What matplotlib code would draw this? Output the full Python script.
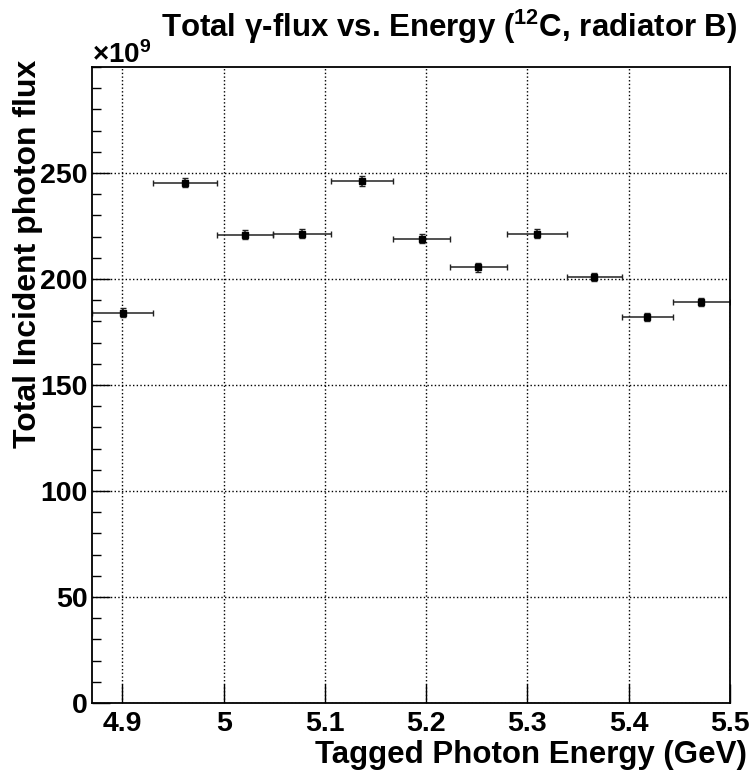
import numpy as np
import matplotlib
matplotlib.use("Agg")
import matplotlib.pyplot as plt
from matplotlib.ticker import MultipleLocator

plt.rcParams['font.family'] = ['Liberation Sans', 'DejaVu Sans']
plt.rcParams['font.weight'] = 'bold'
plt.rcParams['mathtext.fontset'] = 'custom'
plt.rcParams['mathtext.rm'] = 'Liberation Sans:bold'
plt.rcParams['mathtext.sf'] = 'Liberation Sans'
plt.rcParams['mathtext.default'] = 'rm'

# tagged photon energy bins (GeV), flux in units of 1e9
bin_edges = [4.87, 4.9305, 4.993, 5.049, 5.1057, 5.1675, 5.2235, 5.2795, 5.3393, 5.3931, 5.4434, 5.5]
flux = [184.1, 245.4, 220.9, 221.4, 246.2, 219.0, 205.5, 221.4, 200.9, 182.2, 189.2]
flux_err = [2.0, 2.2, 2.1, 2.1, 2.2, 2.1, 2.0, 2.1, 2.0, 1.9, 1.9]

edges = np.array(bin_edges)
centers = 0.5 * (edges[:-1] + edges[1:])
half_w = 0.5 * np.diff(edges)

fig = plt.figure(figsize=(7.54, 7.72), dpi=100)
ax = fig.add_axes([0.122, 0.0894, 0.846, 0.8238])

ax.errorbar(centers, flux, xerr=half_w, yerr=flux_err, fmt='s', color='black',
            ms=4, elinewidth=1.1, capsize=2.5, capthick=1.0, ecolor='#222222')

ax.set_xlim(4.87, 5.5)
ax.set_ylim(0, 300)
ax.yaxis.set_minor_locator(MultipleLocator(10))
ax.set_xticks([4.9, 5.0, 5.1, 5.2, 5.3, 5.4, 5.5])
ax.set_xticklabels(['4.9', '5', '5.1', '5.2', '5.3', '5.4', '5.5'])
ax.set_yticks([0, 50, 100, 150, 200, 250])
ax.tick_params(axis='x', which='major', direction='in', length=14, width=1,
               labelsize=20.5, pad=6)
ax.tick_params(axis='y', which='major', direction='in', length=13, width=1,
               labelsize=20.5, pad=3)
ax.tick_params(axis='y', which='minor', direction='in', length=6.5, width=1)
ax.grid(True, which='major', linestyle=':', color='black', linewidth=1.0)
for s in ax.spines.values():
    s.set_linewidth(1.3)

ax.set_xlabel('Tagged Photon Energy (GeV)', fontsize=22.5, fontweight='bold')
ax.xaxis.set_label_coords(1.027, -0.082)
ax.xaxis.label.set_ha('right')
ax.xaxis.label.set_va('center')
ax.set_ylabel('Total Incident photon flux', fontsize=23, fontweight='bold')
ax.yaxis.set_label_coords(-0.1, 1.011)
ax.yaxis.label.set_va('center')
ax.yaxis.label.set_ha('right')

fig.text(0.122, 0.918, r'$\times$10$^{9}$', fontsize=20, ha='left', va='baseline')
fig.text(0.596, 0.952, r'Total $\mathsf{\gamma}$-flux vs. Energy ($^{12}$C, radiator B)',
         fontsize=22.5, ha='center', va='baseline', fontweight='bold')

fig.savefig('out.png', dpi=100)
